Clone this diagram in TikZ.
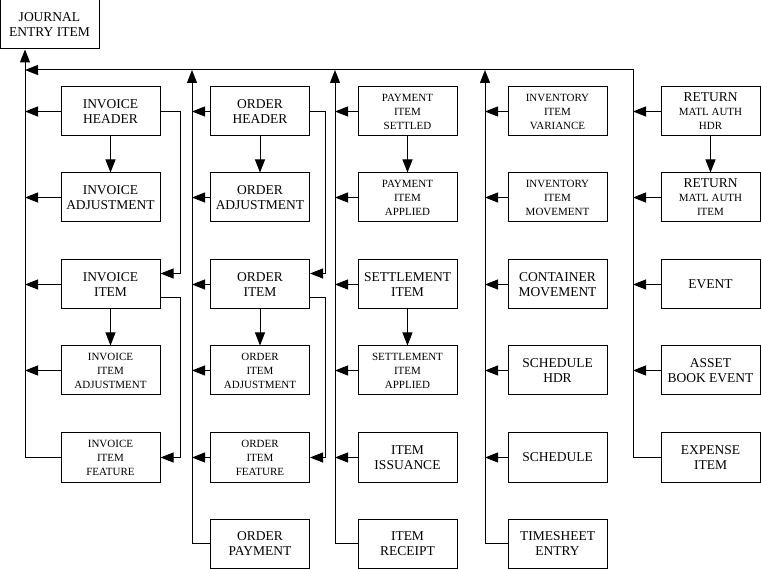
\documentclass[tikz,border=0pt]{standalone}
\usepackage{fontspec}
\setmainfont{Liberation Serif}
\usetikzlibrary{arrows.meta}
\tikzset{
  ent/.style={draw,line width=1pt,minimum width=99pt,minimum height=49pt,inner sep=0pt,
    align=center,font=\fontsize{13.5}{15.5}\selectfont},
  sment/.style={ent,font=\fontsize{11}{14}\selectfont},
  link/.style={line width=1pt,-{Triangle[length=13pt,width=10pt]}},
  wire/.style={line width=1pt}
}
\begin{document}
\begin{tikzpicture}[x=1pt,y=-1pt,line join=miter]
  \useasboundingbox (0,0) rectangle (761,569);
  % bus lines
  \coordinate (b1) at (25,70);
  \coordinate (b2) at (192,70);
  \coordinate (b3) at (335,70);
  \coordinate (b4) at (485,70);
  \coordinate (b5) at (633,70);
  \node[ent] (jei) at (49.5,24.5) {JOURNAL\\ENTRY ITEM};
  % invoices
  \node[ent] (ihdr) at (110.5,111.5) {INVOICE\\HEADER};
  \node[ent] (iadj) at (110.5,197.5) {INVOICE\\ADJUSTMENT};
  \node[ent] (iitem) at (110.5,284.5) {INVOICE\\ITEM};
  \node[sment] (iiadj) at (110.5,370.5) {INVOICE\\ITEM\\ADJUSTMENT};
  \node[sment] (iifeat) at (110.5,457.5) {INVOICE\\ITEM\\FEATURE};
  % orders
  \node[ent] (ohdr) at (260,111.5) {ORDER\\HEADER};
  \node[ent] (oadj) at (260,197.5) {ORDER\\ADJUSTMENT};
  \node[ent] (oitem) at (260,284.5) {ORDER\\ITEM};
  \node[sment] (oiadj) at (260,370.5) {ORDER\\ITEM\\ADJUSTMENT};
  \node[sment] (oifeat) at (260,457.5) {ORDER\\ITEM\\FEATURE};
  \node[ent] (opay) at (260,543.5) {ORDER\\PAYMENT};
  % payments and items
  \node[sment] (pis) at (407.5,111.5) {PAYMENT\\ITEM\\SETTLED};
  \node[sment] (pia) at (407.5,197.5) {PAYMENT\\ITEM\\APPLIED};
  \node[ent] (sitem) at (407.5,284.5) {SETTLEMENT\\ITEM};
  \node[sment] (sia) at (407.5,370.5) {SETTLEMENT\\ITEM\\APPLIED};
  \node[ent] (iiss) at (407.5,457.5) {ITEM\\ISSUANCE};
  \node[ent] (irec) at (407.5,543.5) {ITEM\\RECEIPT};
  % inventory, schedules
  \node[sment] (iiv) at (557.5,111.5) {INVENTORY\\ITEM\\VARIANCE};
  \node[sment] (iim) at (557.5,197.5) {INVENTORY\\ITEM\\MOVEMENT};
  \node[ent] (cmov) at (557.5,284.5) {CONTAINER\\MOVEMENT};
  \node[ent] (shdr) at (557.5,370.5) {SCHEDULE\\HDR};
  \node[ent] (sched) at (557.5,457.5) {SCHEDULE};
  \node[ent] (tse) at (557.5,543.5) {TIMESHEET\\ENTRY};
  % returns, assets
  \node[sment] (rmah) at (710.5,111.5) {{\fontsize{13.5}{15.5}\selectfont RETURN}\\MATL AUTH\\HDR};
  \node[sment] (rmai) at (710.5,197.5) {{\fontsize{13.5}{15.5}\selectfont RETURN}\\MATL AUTH\\ITEM};
  \node[ent] (event) at (710.5,284.5) {EVENT};
  \node[ent] (abe) at (710.5,370.5) {ASSET\\BOOK EVENT};
  \node[ent] (exp) at (710.5,457.5) {EXPENSE\\ITEM};
  % main bus
  \draw[link] (exp.west) -| (b5) -- (b1);
  \draw[link] (iifeat.west) -| (b1 |- jei.south);
  \draw[link] (opay.west) -| (b2);
  \draw[link] (irec.west) -| (b3);
  \draw[link] (tse.west) -| (b4);
  \foreach \n in {ihdr,iadj,iitem,iiadj}
    \draw[link] (\n.west) -- (\n.west -| b1);
  \foreach \n in {ohdr,oadj,oitem,oiadj,oifeat}
    \draw[link] (\n.west) -- (\n.west -| b2);
  \foreach \n in {pis,pia,sitem,sia,iiss}
    \draw[link] (\n.west) -- (\n.west -| b3);
  \foreach \n in {iiv,iim,cmov,shdr,sched}
    \draw[link] (\n.west) -- (\n.west -| b4);
  \foreach \n in {rmah,rmai,event,abe}
    \draw[link] (\n.west) -- (\n.west -| b5);
  % down links
  \draw[link] (ihdr) -- (iadj);
  \draw[link] (iitem) -- (iiadj);
  \draw[link] (ohdr) -- (oadj);
  \draw[link] (oitem) -- (oiadj);
  \draw[link] (pis) -- (pia);
  \draw[link] (sitem) -- (sia);
  \draw[link] (rmah) -- (rmai);
  % side links
  \draw[link] (ihdr.east) -- ++(20,0) |- ([yshift=11pt]iitem.east);
  \draw[link] ([yshift=-13pt]iitem.east) -- ++(20,0) |- (iifeat.east);
  \draw[link] (ohdr.east) -- ++(15,0) |- ([yshift=11pt]oitem.east);
  \draw[link] ([yshift=-13pt]oitem.east) -- ++(15,0) |- (oifeat.east);
\end{tikzpicture}
\end{document}
